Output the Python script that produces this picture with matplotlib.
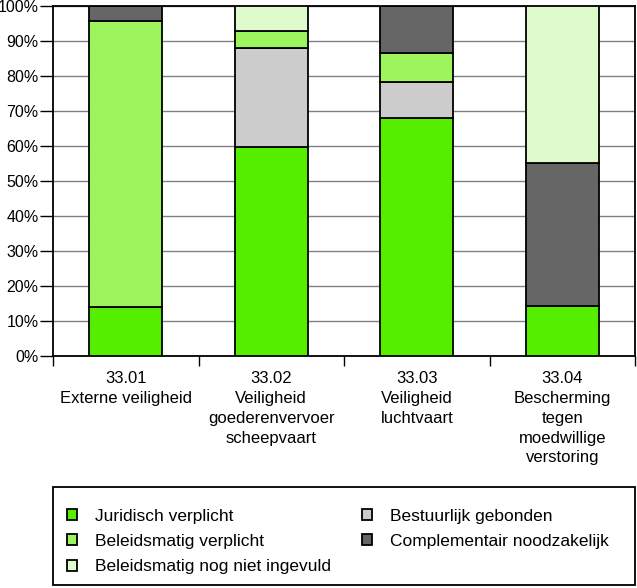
import matplotlib
matplotlib.use("Agg")
import matplotlib.pyplot as plt
from matplotlib.patches import Rectangle
import numpy as np

plt.rcParams['font.family'] = ['Liberation Sans', 'DejaVu Sans']

categories = ["33.01\nExterne veiligheid",
              "33.02\nVeiligheid\ngoederenvervoer\nscheepvaart",
              "33.03\nVeiligheid\nluchtvaart",
              "33.04\nBescherming\ntegen\nmoedwillige\nverstoring"]
juridisch = [14.0, 59.6, 67.9, 14.3]
bestuurlijk = [0.0, 28.4, 10.5, 0.0]
beleid_verplicht = [81.6, 5.0, 8.3, 0.0]
complementair = [4.4, 0.0, 13.3, 40.8]
nog_niet = [0.0, 7.0, 0.0, 44.9]

series = [
    ("Juridisch verplicht", juridisch, "#55EE00"),
    ("Bestuurlijk gebonden", bestuurlijk, "#CCCCCC"),
    ("Beleidsmatig verplicht", beleid_verplicht, "#9CF55C"),
    ("Complementair noodzakelijk", complementair, "#666666"),
    ("Beleidsmatig nog niet ingevuld", nog_niet, "#DDFBCC"),
]
yticklabels = ["0%", "10%", "20%", "30%", "40%", "50%", "60%", "70%", "80%", "90%", "100%"]

fig = plt.figure(figsize=(6.37, 5.88), dpi=100)
ax = fig.add_axes([53/637, 1-356/588, (635-53)/637, 350/588])

x = np.arange(len(categories))
bottom = np.zeros(len(categories))
handles = {}
for name, vals, col in series:
    v = np.array(vals)
    bars = ax.bar(x, v, width=0.5, bottom=bottom, color=col, edgecolor="black",
                  linewidth=1.3, zorder=3, label=name)
    handles[name] = bars
    bottom += v

ax.set_xlim(-0.5, len(categories) - 0.5)
ax.set_ylim(0, 100)
ax.set_yticks(np.arange(0, 101, 10))
ax.set_yticklabels(yticklabels, fontsize=11.5)
ax.yaxis.grid(True, color="#808080", linewidth=1.0, zorder=0)
ax.set_axisbelow(True)
ax.tick_params(axis='y', direction='out', length=9.5, width=1, pad=1)

ax.set_xticks(x)
ax.set_xticklabels(categories, fontsize=12, linespacing=1.4, va='top')
ax.tick_params(axis='x', which='major', length=0, pad=11)
ax.set_xticks(np.arange(-0.5, len(categories), 1.0), minor=True)
ax.tick_params(axis='x', which='minor', direction='out', length=7, width=1)
for s in ax.spines.values():
    s.set_linewidth(1.3)
    s.set_color("black")

# legend frame
fig.patches.append(Rectangle((53/637, 1-585/588), (635-53)/637, (585-487)/588,
                             transform=fig.transFigure, fill=False,
                             edgecolor="black", linewidth=1.3))
col1 = ["Juridisch verplicht", "Beleidsmatig verplicht", "Beleidsmatig nog niet ingevuld"]
col2 = ["Bestuurlijk gebonden", "Complementair noodzakelijk"]
common = dict(frameon=False, loc="upper left", fontsize=12.5, handlelength=0.6,
              handleheight=0.6, handletextpad=1.0, labelspacing=0.58,
              borderaxespad=0, borderpad=0)
fig.legend([handles[n] for n in col1], col1, bbox_to_anchor=(67/637, 1-509/588), **common)
fig.legend([handles[n] for n in col2], col2, bbox_to_anchor=(362/637, 1-509/588), **common)

fig.savefig("out.png", dpi=100)
